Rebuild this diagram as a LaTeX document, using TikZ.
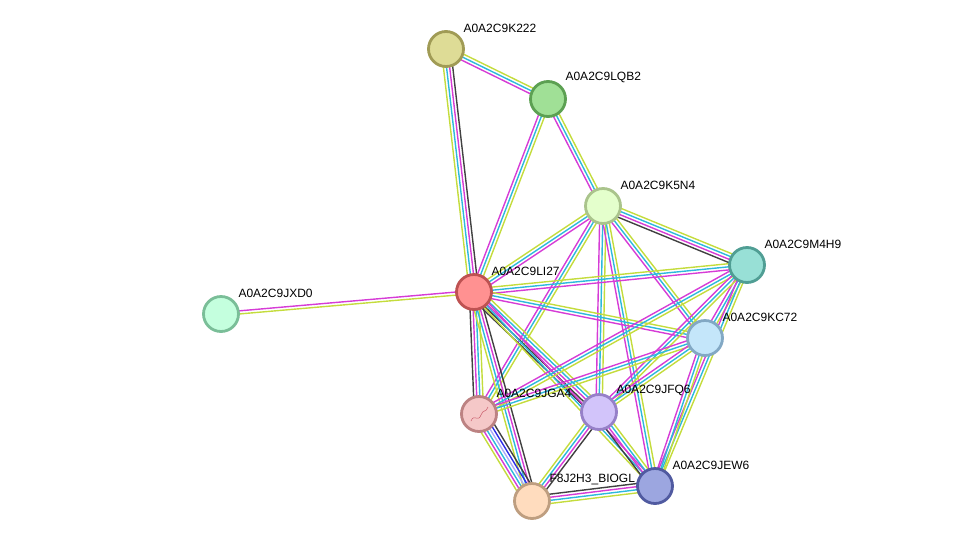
\documentclass[tikz,border=0pt]{standalone}
\usepackage{fontspec}
\newfontfamily\lblfont{Liberation Sans}
\usetikzlibrary{calc,backgrounds}

\definecolor{ctm}{RGB}{196,220,60}
\definecolor{cexp}{RGB}{214,60,214}
\definecolor{cdb}{RGB}{45,185,220}
\definecolor{ccx}{RGB}{65,65,65}
\definecolor{chom}{RGB}{170,170,250}
\definecolor{ccooc}{RGB}{45,45,230}

\definecolor{fk222}{RGB}{222,220,150}\definecolor{dk222}{RGB}{160,155,85}
\definecolor{flqb2}{RGB}{160,224,150}\definecolor{dlqb2}{RGB}{92,160,82}
\definecolor{fk5n4}{RGB}{228,255,204}\definecolor{dk5n4}{RGB}{170,196,140}
\definecolor{fm4h9}{RGB}{152,224,214}\definecolor{dm4h9}{RGB}{80,158,148}
\definecolor{fli27}{RGB}{255,145,145}\definecolor{dli27}{RGB}{190,82,82}
\definecolor{fjxd0}{RGB}{196,255,222}\definecolor{djxd0}{RGB}{122,190,152}
\definecolor{fkc72}{RGB}{196,230,250}\definecolor{dkc72}{RGB}{130,168,196}
\definecolor{fjga4}{RGB}{245,200,200}\definecolor{djga4}{RGB}{188,130,130}
\definecolor{fjfq6}{RGB}{210,196,250}\definecolor{djfq6}{RGB}{150,128,200}
\definecolor{fjew6}{RGB}{156,166,224}\definecolor{djew6}{RGB}{80,90,160}
\definecolor{ff8j2}{RGB}{255,220,190}\definecolor{df8j2}{RGB}{190,158,128}
\definecolor{squig}{RGB}{200,90,105}

% #1 from, #2 to, #3 number of lines, #4 colours
\newcommand{\strlink}[4]{%
  \foreach \col [count=\i] in {#4} {%
    \pgfmathsetmacro\off{(\i-(#3+1)/2)*3.1}%
    \draw[edge, \col] ($(#1)!\off pt!90:(#2)$) -- ($(#2)!\off pt!-90:(#1)$);
  }%
}

\begin{document}
\begin{tikzpicture}[x=1pt, y=-1pt,
	prot/.style={circle, minimum size=35pt, inner sep=0pt, line width=2.8pt},
	lbl/.style={anchor=south west, inner sep=0pt, xshift=4pt, yshift=2.5pt, font=\lblfont\fontsize{12}{14}\selectfont},
	edge/.style={line width=1.4pt}]

	\useasboundingbox (0,0) rectangle (975,547);

	\node[prot, fill=fk222, draw=dk222, label={[lbl]north east:A0A2C9K222}] (k222) at (446,49) {};
	\node[prot, fill=flqb2, draw=dlqb2, label={[lbl]north east:A0A2C9LQB2}] (lqb2) at (548,99) {};
	\node[prot, fill=fk5n4, draw=dk5n4, label={[lbl]north east:A0A2C9K5N4}] (k5n4) at (603,206) {};
	\node[prot, fill=fm4h9, draw=dm4h9, label={[lbl]north east:A0A2C9M4H9}] (m4h9) at (747,265) {};
	\node[prot, fill=fli27, draw=dli27, label={[lbl]north east:A0A2C9LI27}] (li27) at (474,292) {};
	\node[prot, fill=fjxd0, draw=djxd0, label={[lbl]north east:A0A2C9JXD0}] (jxd0) at (221,314) {};
	\node[prot, fill=fkc72, draw=dkc72, label={[lbl]north east:A0A2C9KC72}] (kc72) at (705,338) {};
	\node[prot, fill=fjga4, draw=djga4, label={[lbl]north east:A0A2C9JGA4}] (jga4) at (479,414) {};
	\node[prot, fill=fjfq6, draw=djfq6, label={[lbl]north east:A0A2C9JFQ6}] (jfq6) at (599,412) {};
	\node[prot, fill=fjew6, draw=djew6, label={[lbl]north east:A0A2C9JEW6}] (jew6) at (655,486) {};
	\node[prot, fill=ff8j2, draw=df8j2, label={[lbl]north east:F8J2H3\_BIOGL}] (f8j2h3) at (532,501) {};

	\draw[squig, line width=0.5pt] (471,421) .. controls (474,413) and (478,423) .. (481,415) .. controls (483,409) and (486,413) .. (488,407);

	\begin{pgfonlayer}{background}
		\strlink{k222}{lqb2}{3}{cexp,cdb,ctm}
		\strlink{k222}{li27}{4}{ctm,cdb,cexp,ccx}
		\strlink{lqb2}{li27}{3}{cexp,cdb,ctm}
		\strlink{lqb2}{k5n4}{3}{cexp,cdb,ctm}
		\strlink{k5n4}{li27}{3}{ctm,cdb,cexp}
		\strlink{k5n4}{m4h9}{4}{ccx,cexp,cdb,ctm}
		\strlink{k5n4}{jga4}{3}{cexp,cdb,ctm}
		\strlink{k5n4}{jfq6}{3}{cexp,cdb,ctm}
		\strlink{k5n4}{jew6}{3}{cexp,cdb,ctm}
		\strlink{k5n4}{kc72}{3}{cexp,cdb,ctm}
		\strlink{li27}{jxd0}{2}{cexp,ctm}
		\strlink{li27}{m4h9}{3}{cexp,cdb,ctm}
		\strlink{li27}{kc72}{3}{cexp,cdb,ctm}
		\strlink{li27}{jga4}{4}{ccx,cexp,cdb,ctm}
		\strlink{li27}{f8j2h3}{4}{ctm,cdb,cexp,ccx}
		\strlink{li27}{jfq6}{5}{ccx,ccx,cexp,cdb,ctm}
		\strlink{li27}{jew6}{3}{ctm,cdb,cexp}
		\strlink{m4h9}{kc72}{3}{cexp,cdb,ctm}
		\strlink{m4h9}{jga4}{3}{cexp,cdb,ctm}
		\strlink{m4h9}{jfq6}{3}{cexp,cdb,ctm}
		\strlink{m4h9}{jew6}{3}{cexp,cdb,ctm}
		\strlink{kc72}{jga4}{3}{cexp,cdb,ctm}
		\strlink{kc72}{jfq6}{3}{cexp,cdb,ctm}
		\strlink{kc72}{jew6}{3}{cexp,cdb,ctm}
		\strlink{jga4}{f8j2h3}{6}{ctm,cexp,cdb,chom,ccooc,ccx}
		\strlink{jfq6}{f8j2h3}{4}{ctm,cdb,cexp,ccx}
		\strlink{jfq6}{jew6}{4}{ccx,cexp,cdb,ctm}
		\strlink{f8j2h3}{jew6}{4}{ctm,cdb,cexp,ccx}
	\end{pgfonlayer}

\end{tikzpicture}
\end{document}
